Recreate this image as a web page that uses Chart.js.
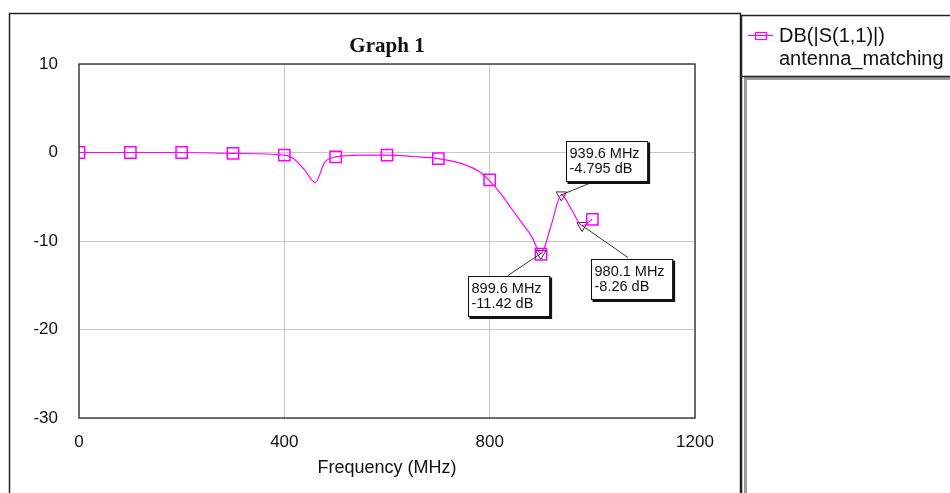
<!DOCTYPE html>
<html>
<head>
<meta charset="utf-8">
<script src="https://cdn.jsdelivr.net/npm/chart.js@4"></script>
<style>
  html, body { margin: 0; padding: 0; background: #fff; }
</style>
</head>
<body>
<canvas id="s11Chart" width="950" height="493"></canvas>
<script>
// swept response DB(|S(1,1)|)
const sweepFreq = [0, 100, 200, 300, 400, 417, 440, 460, 479, 500, 550, 600, 650, 700, 755, 781, 800, 821, 842, 862, 882, 899.6, 920, 939.6, 960, 980.1, 1000];
const sweepDb = [0, 0, 0, -0.1, -0.3, -0.65, -2.0, -3.4, -1.1, -0.5, -0.3, -0.3, -0.45, -0.7, -1.45, -2.2, -3.2, -4.6, -6.3, -7.9, -9.5, -11.42, -8.2, -4.795, -6.5, -8.26, -7.55];

// square symbols on the trace
const symbolFreq = [0, 100, 200, 300, 400, 500, 600, 700, 800, 900, 1000];
const symbolDb = [0, 0, 0, -0.1, -0.3, -0.5, -0.3, -0.7, -3.1, -11.5, -7.55];

// marker readouts
const markerFreq = [899.6, 939.6, 980.1];
const markerDb = [-11.42, -4.795, -8.26];

const xTicks = [0, 400, 800, 1200];
const yTicks = [10, 0, -10, -20, -30];

// readout box placement relative to the marker (px)
const boxStyle = [
  { dx: -73, dy: 22, lx: -33, ly: 22 },
  { dx: 5, dy: -54, lx: 34, ly: -14 },
  { dx: 9, dy: 33, lx: 46, ly: 32 },
];

const MAGENTA = "#ff00ff";

const framePlugin = {
  id: "frame",
  beforeDraw(chart) {
    const c = chart.ctx;
    c.save();
    c.fillStyle = "#fff";
    c.fillRect(0, 0, chart.width, chart.height);

    // outer graph frame
    c.strokeStyle = "#222";
    c.lineWidth = 1.5;
    c.strokeRect(9.5, 13.5, 731, 520);

    // legend panel + shadow
    c.fillStyle = "#9a9a9a";
    c.fillRect(744, 77, 3, 420);
    c.fillRect(744, 77, 210, 3);
    c.strokeRect(741.5, 15.5, 240, 61);
    c.beginPath();
    c.moveTo(741.5, 76);
    c.lineTo(741.5, 493);
    c.stroke();

    c.strokeStyle = MAGENTA;
    c.lineWidth = 1.2;
    c.beginPath();
    c.moveTo(748, 35.5);
    c.lineTo(773, 35.5);
    c.stroke();
    c.strokeRect(755.5, 32.5, 11, 7);

    c.fillStyle = "#111";
    c.font = "20px 'Liberation Sans', Arial, sans-serif";
    c.textAlign = "left";
    c.textBaseline = "alphabetic";
    c.fillText("DB(|S(1,1)|)", 779, 42);
    c.fillText("antenna_matching", 779, 65);

    c.font = "bold 21px 'Liberation Serif', 'Times New Roman', serif";
    c.textAlign = "center";
    const a = chart.chartArea;
    c.fillText("Graph 1", (a.left + a.right) / 2, 52);
    c.restore();
  },
  afterDraw(chart) {
    const c = chart.ctx;
    const a = chart.chartArea;
    const xs = chart.scales.x;
    const ys = chart.scales.y;
    c.save();
    c.strokeStyle = "#444";
    c.lineWidth = 1.5;
    c.strokeRect(a.left, a.top, a.right - a.left, a.bottom - a.top);

    c.font = "14.5px 'Liberation Sans', Arial, sans-serif";
    c.textAlign = "left";
    c.textBaseline = "alphabetic";
    markerFreq.forEach((f, i) => {
      const px = xs.getPixelForValue(f);
      const py = ys.getPixelForValue(markerDb[i]);
      const s = boxStyle[i];
      const l1 = f + " MHz";
      const l2 = markerDb[i] + " dB";
      const w = Math.max(c.measureText(l1).width, c.measureText(l2).width) + 11;
      const h = 40;
      const bx = Math.round(px + s.dx) + 0.5;
      const by = Math.round(py + s.dy) + 0.5;

      c.strokeStyle = "#333";
      c.lineWidth = 1;
      c.beginPath();
      c.moveTo(px, py);
      c.lineTo(px + s.lx, py + s.ly);
      c.stroke();

      c.fillStyle = "#111";
      c.fillRect(bx + 1, by + 1, w + 1.5, h + 1.5);
      c.fillStyle = "#fff";
      c.fillRect(bx, by, w, h);
      c.strokeStyle = "#111";
      c.strokeRect(bx, by, w, h);

      c.fillStyle = "#111";
      c.fillText(l1, bx + 3, by + 16);
      c.fillText(l2, bx + 3, by + 31);
    });
    c.restore();
  },
};

const tickFont = { family: "'Liberation Sans', Arial, sans-serif", size: 17 };

new Chart(document.getElementById("s11Chart").getContext("2d"), {
  type: "line",
  data: {
    datasets: [
      {
        label: "DB(|S(1,1)|)",
        data: sweepFreq.map((f, i) => ({ x: f, y: sweepDb[i] })),
        borderColor: MAGENTA,
        borderWidth: 1.2,
        pointRadius: 0,
        cubicInterpolationMode: "monotone",
        fill: false,
      },
      {
        label: "symbols",
        data: symbolFreq.map((f, i) => ({ x: f, y: symbolDb[i] })),
        showLine: false,
        pointStyle: "rect",
        pointRadius: 8,
        pointBorderWidth: 1.5,
        borderColor: MAGENTA,
        backgroundColor: "rgba(0,0,0,0)",
      },
      {
        label: "markers",
        data: markerFreq.map((f, i) => ({ x: f, y: markerDb[i] })),
        showLine: false,
        pointStyle: "triangle",
        pointRotation: 180,
        pointRadius: 6,
        pointBorderWidth: 1,
        borderColor: "#333",
        backgroundColor: "rgba(0,0,0,0)",
      },
    ],
  },
  options: {
    responsive: false,
    animation: false,
    layout: { padding: { left: 0, top: 64, right: 255, bottom: 0 } },
    plugins: {
      legend: { display: false },
      tooltip: { enabled: false },
    },
    scales: {
      x: {
        type: "linear",
        min: 0,
        max: 1200,
        afterBuildTicks: (s) => { s.ticks = xTicks.map((v) => ({ value: v })); },
        afterFit: (s) => { s.height = 75; },
        grid: { color: "#c8c8c8", drawTicks: false },
        border: { display: false },
        ticks: {
          color: "#111",
          font: tickFont,
          padding: 14,
          maxRotation: 0,
          callback: (v) => String(v),
        },
        title: {
          display: true,
          text: "Frequency (MHz)",
          color: "#111",
          font: { family: "'Liberation Sans', Arial, sans-serif", size: 18 },
          padding: { top: 0, bottom: 14 },
        },
      },
      y: {
        min: -30,
        max: 10,
        afterBuildTicks: (s) => { s.ticks = yTicks.map((v) => ({ value: v })); },
        afterFit: (s) => { s.width = 79; },
        grid: { color: "#c8c8c8", drawTicks: false },
        border: { display: false },
        ticks: { color: "#111", font: tickFont, padding: 21, callback: (v) => String(v) },
      },
    },
  },
  plugins: [framePlugin],
});
</script>
</body>
</html>
